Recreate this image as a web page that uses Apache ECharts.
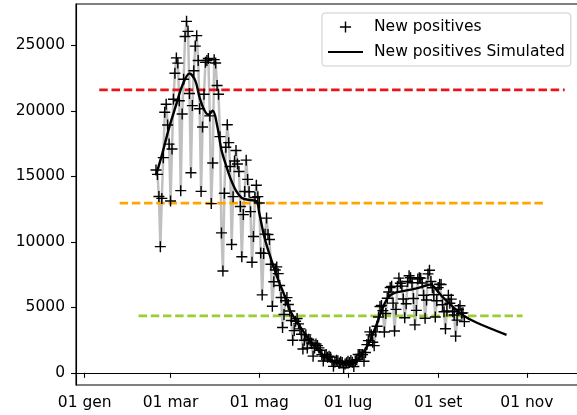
<!DOCTYPE html>
<html>
  <head>
    <title></title>
    <meta charset="UTF-8" />
    <script src="https://cdn.jsdelivr.net/npm/echarts@6/dist/echarts.min.js"></script>
  </head>
  <body style="margin:0;overflow:hidden">
    <div id="main"></div>
    <script>
      // the figure is cropped on the right: draw wider and let the window cut it
      const width = 600;
      const height = 415;
      const main = document.getElementById('main');
      main.style.width = `${width}px`;
      main.style.height = `${height}px`;

      // daily new positives, one value per day starting on firstDay
      const firstDay = [2021, 2, 19];
      const newPositives = [
        15479, 15146, 13452, 9630, 13314, 16424, 19886, 20499, 18916, 17455,
        13114, 17083, 20884, 22865, 24036, 23641, 20765, 13902, 19749, 22409,
        25673, 26824, 26062, 21315, 15267, 20396, 23059, 24935, 25735, 23832,
        20159, 13846, 18765, 21267, 23696, 23839, 23987, 19611, 12916, 16017, 23904,
        23649, 21932, 21261, 18025, 10680, 7767, 13708, 17221, 18938, 17567,
        15746, 9789, 13447, 16168, 16974, 15943, 15370, 12694, 8864, 12074,
        13844, 16232, 14761, 13817, 12300, 8444, 10404, 13385, 14320, 13446,
        12965, 9148, 5948, 9116, 10585, 11807, 10554, 10176, 8292, 5080,
        6946, 7852, 8085, 7567, 6659, 5753, 3455, 4452, 5506, 5741,
        5218, 4717, 3995, 2490, 3224, 3937, 4147, 3738, 3351, 2949, 1820,
        2483, 2897, 1896, 2557, 2436, 2275, 1273, 1896, 2199, 2079,
        1901, 1723, 1390, 907, 1255, 1400, 1197, 1268, 1197, 881,
        495, 835, 951, 927, 753, 838, 778, 389, 679, 776,
        882, 794, 932, 808, 480, 907, 1010, 1394, 1390, 1400,
        1391, 888, 1554, 2153, 2455, 3121, 2898, 2329, 2072, 3127,
        3558, 4259, 5057, 5140, 4743, 3117, 4522, 5696, 6171, 6513, 6599,
        5321, 3190, 4845, 6596, 7230, 6837, 6619, 5636, 4200, 5271,
        6968, 7409, 7251, 6877, 5674, 3662, 4764, 7162, 7260, 7224,
        6860, 5922, 4168, 5559, 7548, 7826, 6968, 6494, 5959, 4257, 5498,
        6503, 6761, 6735, 5193, 4664, 3361, 4720, 5923, 5315, 5621,
        4664, 4408, 2800, 4021, 4830, 5117, 4552, 4578, 3910
      ];

      const simDates = [
        '2021-02-19', '2021-02-23', '2021-02-28', '2021-03-05', '2021-03-09', '2021-03-14',
        '2021-03-18', '2021-03-21', '2021-03-24', '2021-03-27', '2021-03-30', '2021-04-02',
        '2021-04-05', '2021-04-08', '2021-04-11', '2021-04-15', '2021-04-19', '2021-04-24',
        '2021-04-29', '2021-05-01', '2021-05-04', '2021-05-07', '2021-05-14', '2021-05-18',
        '2021-05-22', '2021-05-28', '2021-06-06', '2021-06-15', '2021-06-22', '2021-06-28',
        '2021-07-02', '2021-07-06', '2021-07-09', '2021-07-13', '2021-07-16', '2021-07-20',
        '2021-07-25', '2021-07-29', '2021-08-02', '2021-08-06', '2021-08-17', '2021-08-25',
        '2021-08-27', '2021-08-30', '2021-09-04', '2021-09-11', '2021-09-18', '2021-09-28',
        '2021-10-18'
      ];
      const simValues = [
        15100, 16600, 18700, 20500, 21900, 22850,
        22300, 21000, 20100, 19700, 20000, 18900,
        17000, 15900, 14900, 13900, 13350, 13200,
        13100, 12200, 10600, 9400, 7100, 6000,
        4800, 3700, 2300, 1250, 850, 650,
        620, 800, 1200, 1800, 2400, 3500,
        5000, 5800, 6100, 6200, 6450, 6700,
        6750, 6450, 5800, 5050, 4400, 3800,
        2900
      ];

      const thresholdValues = [21600, 12950, 4350];
      const thresholdStart = ['2021-01-11', '2021-01-25', '2021-02-07'];
      const thresholdEnd = ['2021-11-27', '2021-11-13', '2021-10-29'];
      const thresholdColors = ['#e8141b', '#ffa500', '#9acd32'];

      const xTicks = ['2021-01-01', '2021-03-01', '2021-05-01', '2021-07-01', '2021-09-01', '2021-11-01'];
      const yTicks = [0, 5000, 10000, 15000, 20000, 25000];
      const mesi = ['gen', 'feb', 'mar', 'apr', 'mag', 'giu', 'lug', 'ago', 'set', 'ott', 'nov', 'dic'];

      const toTime = s => {
        const p = s.split('-').map(Number);
        return new Date(p[0], p[1] - 1, p[2]).getTime();
      };
      const dayMs = 86400000;
      const start = new Date(firstDay[0], firstDay[1] - 1, firstDay[2]).getTime();
      const positivesData = newPositives.map((v, i) => [start + i * dayMs, v]);
      const simData = simDates.map((d, i) => [toTime(d), simValues[i]]);

      const font = 'DejaVu Sans';
      const plus = 'path://M0,5L10,5M5,0L5,10';

      const thresholdSeries = thresholdValues.map((v, i) => ({
        type: 'line',
        name: 'soglia' + i,
        data: [[toTime(thresholdStart[i]), v], [toTime(thresholdEnd[i]), v]],
        symbol: 'none',
        silent: true,
        z: 2,
        lineStyle: { color: thresholdColors[i], width: 2.8, type: [8.5, 3.7] }
      }));

      const myChart = echarts.init(main);
      const option = {
        animation: false,
        textStyle: { fontFamily: font },
        grid: {
          left: 76,
          top: 4,
          bottom: 30,
          right: width - 588,
          show: true,
          borderColor: '#000',
          borderWidth: 1.1
        },
        legend: {
          data: [
            {
              name: 'New positives',
              lineStyle: { opacity: 0 },
              itemStyle: { color: '#000', borderColor: '#000', borderWidth: 1.4 }
            },
            { name: 'New positives Simulated', itemStyle: { opacity: 0 } }
          ],
          orient: 'vertical',
          left: 322,
          top: 13,
          itemWidth: 35,
          itemHeight: 14,
          itemGap: 7,
          padding: [5, 6, 5, 5],
          borderColor: '#cccccc',
          borderWidth: 1,
          borderRadius: 3,
          backgroundColor: 'rgba(255,255,255,0.8)',
          textStyle: {
            fontFamily: font,
            fontSize: 15.5,
            color: '#000',
            lineHeight: 18,
            padding: [0, 0, 0, 6]
          }
        },
        xAxis: {
          type: 'value',
          min: toTime('2020-12-26'),
          max: toTime('2021-12-13'),
          axisLine: { lineStyle: { color: '#000', width: 1.1 } },
          axisTick: {
            customValues: xTicks.map(toTime),
            length: 5,
            lineStyle: { color: '#000', width: 1.1 }
          },
          axisLabel: {
            customValues: xTicks.map(toTime),
            margin: 10,
            fontSize: 15.5,
            color: '#000',
            fontFamily: font,
            formatter: v => {
              const d = new Date(v);
              return String(d.getDate()).padStart(2, '0') + ' ' + mesi[d.getMonth()];
            }
          },
          splitLine: { show: false }
        },
        yAxis: {
          type: 'value',
          min: -930,
          max: 28150,
          axisLine: { show: true, lineStyle: { color: '#000', width: 1.1 } },
          axisTick: {
            show: true,
            customValues: yTicks,
            length: 5,
            lineStyle: { color: '#000', width: 1.1 }
          },
          axisLabel: {
            customValues: yTicks,
            margin: 11,
            fontSize: 15.5,
            color: '#000',
            fontFamily: font,
            formatter: v => String(v)
          },
          splitLine: { show: false }
        },
        series: [
          {
            type: 'line',
            name: 'collegamento',
            data: positivesData,
            symbol: 'none',
            silent: true,
            z: 1,
            lineStyle: { color: '#c0c0c0', width: 2.5 }
          },
          ...thresholdSeries,
          {
            type: 'line',
            name: 'New positives',
            data: positivesData,
            symbol: plus,
            symbolSize: 11,
            showAllSymbol: true,
            z: 3,
            itemStyle: { color: '#000', borderColor: '#000', borderWidth: 1.4 },
            lineStyle: { width: 0, opacity: 0 }
          },
          {
            type: 'line',
            name: 'New positives Simulated',
            data: simData,
            symbol: 'none',
            smooth: 0.35,
            z: 4,
            lineStyle: { color: '#000', width: 2.4 }
          }
        ]
      };
      myChart.setOption(option);
    </script>
  </body>
</html>
